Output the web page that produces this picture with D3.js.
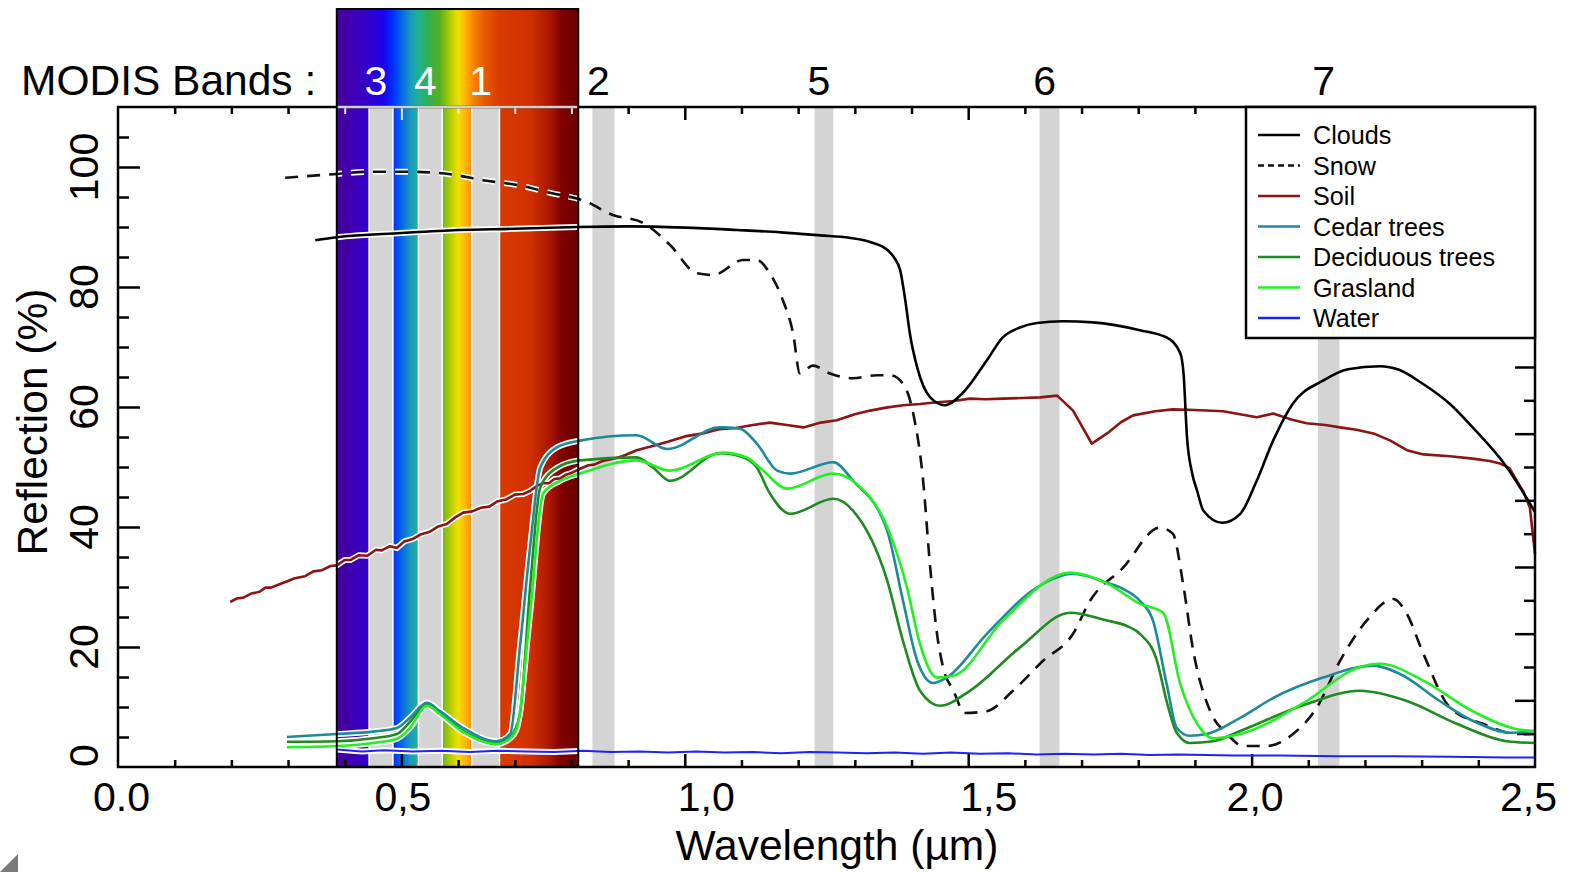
<!DOCTYPE html>
<html>
<head>
<meta charset="utf-8">
<script src="https://cdn.jsdelivr.net/npm/d3@7"></script>
<style>
  body { margin: 0; background: #fff; }
  text { font-family: Arial, "Liberation Sans", sans-serif; }
</style>
</head>
<body>
<svg id="chart"></svg>
<script>
const width = 1573;
const height = 872;
const margin = { top: 107, right: 38, bottom: 105, left: 118 };

// Data (wavelength in µm, reflection in %)
const cloudsWl = [0.348, 0.386, 0.5, 0.6, 0.7, 0.81, 0.9, 1.0, 1.092, 1.17, 1.239, 1.29, 1.327, 1.357, 1.37, 1.38, 1.389, 1.397, 1.41, 1.433, 1.459, 1.49, 1.533, 1.561, 1.59, 1.621, 1.667, 1.72, 1.803, 1.85, 1.874, 1.88, 1.886, 1.895, 1.904, 1.915, 1.948, 1.98, 2.009, 2.038, 2.073, 2.126, 2.17, 2.227, 2.26, 2.3, 2.35, 2.39, 2.45, 2.5];
const cloudsVal = [87.8, 88.3, 89.0, 89.5, 89.7, 90.0, 90.1, 89.9, 89.5, 89.1, 88.6, 88.2, 87.5, 86.2, 84.8, 82.8, 77.8, 72.3, 66.6, 61.6, 60.3, 62.3, 67.8, 71.6, 73.2, 74.0, 74.3, 74.1, 72.8, 71.6, 69.0, 65.5, 55.0, 49.0, 46.0, 42.7, 40.7, 42.2, 47.7, 54.4, 60.6, 64.4, 66.3, 66.8, 66.2, 64.0, 60.5, 56.6, 50.0, 42.5];

const snowWl = [0.295, 0.38, 0.445, 0.515, 0.586, 0.644, 0.704, 0.762, 0.824, 0.873, 0.926, 0.974, 1.021, 1.05, 1.103, 1.127, 1.15, 1.173, 1.191, 1.203, 1.226, 1.256, 1.297, 1.339, 1.362, 1.385, 1.403, 1.42, 1.433, 1.445, 1.456, 1.474, 1.494, 1.533, 1.579, 1.632, 1.685, 1.715, 1.773, 1.838, 1.861, 1.879, 1.897, 1.927, 1.957, 1.985, 2.027, 2.073, 2.115, 2.156, 2.203, 2.25, 2.274, 2.303, 2.35, 2.408, 2.468, 2.5];
const snowVal = [98.2, 98.8, 99.2, 99.2, 98.8, 97.8, 97.0, 95.7, 94.3, 92.0, 90.7, 87.0, 82.3, 82.0, 84.5, 84.5, 82.3, 77.8, 72.3, 65.6, 66.9, 65.6, 64.8, 65.3, 65.3, 63.9, 58.9, 48.2, 33.2, 22.2, 16.5, 12.7, 9.0, 9.3, 12.7, 17.7, 22.2, 27.7, 33.2, 39.9, 38.9, 30.6, 19.4, 9.3, 5.5, 3.5, 3.5, 5.5, 9.9, 17.7, 24.4, 28.0, 25.5, 18.9, 9.9, 7.2, 5.5, 5.5];

const soilWl = [0.198, 0.21, 0.22, 0.235, 0.25, 0.26, 0.27, 0.286, 0.3, 0.31, 0.33, 0.345, 0.36, 0.375, 0.386, 0.4, 0.41, 0.425, 0.44, 0.455, 0.465, 0.48, 0.492, 0.505, 0.52, 0.535, 0.55, 0.565, 0.58, 0.595, 0.609, 0.625, 0.64, 0.655, 0.67, 0.685, 0.7, 0.715, 0.727, 0.74, 0.75, 0.76, 0.77, 0.78, 0.79, 0.8, 0.815, 0.83, 0.84, 0.855, 0.87, 0.89, 0.915, 0.94, 0.97, 1.0, 1.032, 1.06, 1.09, 1.12, 1.15, 1.18, 1.209, 1.24, 1.268, 1.3, 1.327, 1.355, 1.385, 1.415, 1.445, 1.475, 1.503, 1.53, 1.561, 1.595, 1.627, 1.657, 1.685, 1.718, 1.745, 1.77, 1.791, 1.83, 1.861, 1.9, 1.95, 2.009, 2.038, 2.07, 2.097, 2.13, 2.156, 2.185, 2.215, 2.245, 2.274, 2.303, 2.35, 2.39, 2.42, 2.438, 2.455, 2.468, 2.48, 2.491, 2.5];
const soilVal = [27.5, 28.1, 28.2, 28.9, 29.2, 29.9, 29.9, 30.5, 31.0, 31.4, 31.8, 32.6, 32.8, 33.5, 33.6, 34.5, 34.5, 35.3, 35.2, 36.2, 36.1, 36.8, 36.5, 37.6, 38.0, 38.8, 39.2, 40.1, 40.5, 41.6, 42.4, 42.6, 43.2, 43.4, 44.3, 44.6, 45.4, 45.5, 46.0, 46.9, 47.3, 47.3, 48.0, 48.1, 48.7, 49.0, 49.7, 50.3, 50.4, 51.0, 51.3, 51.8, 52.8, 53.4, 54.2, 55.1, 55.6, 56.3, 56.5, 57.0, 57.4, 57.0, 56.6, 57.4, 57.8, 58.8, 59.4, 59.9, 60.3, 60.5, 60.8, 61.0, 61.4, 61.3, 61.4, 61.5, 61.6, 61.9, 59.4, 53.9, 55.6, 57.5, 58.6, 59.3, 59.6, 59.5, 59.3, 58.3, 58.9, 57.9, 57.3, 57.0, 56.6, 56.2, 55.6, 54.4, 52.8, 52.1, 51.8, 51.4, 51.0, 50.6, 49.8, 47.7, 45.8, 43.2, 35.5];

const cedarWl = [0.298, 0.386, 0.45, 0.492, 0.515, 0.545, 0.568, 0.609, 0.668, 0.692, 0.709, 0.727, 0.745, 0.775, 0.815, 0.915, 0.969, 1.062, 1.097, 1.127, 1.163, 1.186, 1.262, 1.297, 1.357, 1.385, 1.41, 1.438, 1.462, 1.533, 1.621, 1.685, 1.745, 1.773, 1.803, 1.826, 1.85, 1.868, 1.891, 1.921, 1.98, 2.038, 2.126, 2.215, 2.262, 2.332, 2.39, 2.461, 2.5];
const cedarVal = [5.0, 5.5, 5.9, 6.5, 8.2, 10.7, 9.3, 6.5, 4.3, 5.5, 19.9, 36.6, 49.9, 53.3, 54.4, 55.3, 53.0, 56.6, 56.4, 53.9, 49.4, 48.9, 50.8, 47.7, 39.4, 27.7, 17.7, 14.0, 14.9, 22.2, 29.9, 32.2, 30.7, 29.7, 27.7, 24.4, 13.9, 6.5, 5.2, 5.5, 8.2, 11.5, 14.9, 16.9, 15.5, 11.0, 7.7, 5.7, 6.0];

const deciduousWl = [0.298, 0.386, 0.45, 0.492, 0.515, 0.545, 0.568, 0.609, 0.668, 0.692, 0.709, 0.727, 0.745, 0.775, 0.815, 0.915, 0.944, 0.974, 1.062, 1.103, 1.127, 1.15, 1.186, 1.262, 1.297, 1.357, 1.385, 1.415, 1.45, 1.503, 1.591, 1.68, 1.745, 1.78, 1.803, 1.833, 1.85, 1.868, 1.891, 1.932, 1.98, 2.097, 2.191, 2.274, 2.362, 2.45, 2.5];
const deciduousVal = [4.2, 4.3, 4.8, 5.5, 7.5, 10.5, 9.0, 6.0, 4.0, 5.0, 8.8, 29.9, 46.6, 49.9, 51.1, 51.6, 49.9, 47.7, 52.3, 51.6, 49.9, 45.6, 42.2, 44.7, 42.7, 31.1, 21.0, 12.7, 10.2, 12.7, 19.9, 25.7, 24.4, 23.5, 22.2, 17.7, 11.0, 5.7, 4.0, 4.3, 6.0, 10.5, 12.7, 11.0, 7.2, 4.3, 4.0];

const graslandWl = [0.298, 0.386, 0.45, 0.492, 0.515, 0.545, 0.568, 0.609, 0.668, 0.692, 0.704, 0.727, 0.75, 0.78, 0.815, 0.915, 0.974, 1.067, 1.109, 1.138, 1.18, 1.262, 1.303, 1.362, 1.392, 1.415, 1.445, 1.474, 1.561, 1.68, 1.745, 1.803, 1.844, 1.874, 1.904, 1.932, 1.98, 2.097, 2.186, 2.227, 2.303, 2.39, 2.468, 2.5];
const graslandVal = [3.3, 3.5, 4.0, 4.7, 6.5, 10.2, 8.8, 5.8, 3.8, 4.8, 6.5, 25.5, 45.6, 47.7, 48.9, 51.1, 49.4, 52.4, 51.6, 49.4, 46.4, 48.9, 47.2, 38.9, 29.9, 20.5, 14.9, 15.2, 24.4, 32.4, 30.6, 27.2, 25.7, 13.9, 7.2, 4.8, 5.5, 11.0, 16.5, 17.2, 14.4, 9.3, 6.3, 6.0];

const waterWl = [0.386, 0.43, 0.47, 0.52, 0.57, 0.62, 0.67, 0.72, 0.77, 0.82, 0.87, 0.92, 0.97, 1.02, 1.07, 1.12, 1.17, 1.22, 1.27, 1.32, 1.37, 1.42, 1.47, 1.52, 1.57, 1.62, 1.67, 1.72, 1.77, 1.82, 1.87, 1.92, 1.97, 2.05, 2.15, 2.25, 2.35, 2.45, 2.5];
const waterVal = [2.9, 2.6, 2.8, 2.6, 2.7, 2.5, 2.7, 2.6, 2.5, 2.7, 2.5, 2.6, 2.4, 2.6, 2.4, 2.5, 2.3, 2.5, 2.4, 2.3, 2.4, 2.2, 2.4, 2.2, 2.3, 2.1, 2.2, 2.1, 2.2, 2.0, 2.1, 2.0, 1.9, 1.9, 1.8, 1.8, 1.7, 1.6, 1.6];

// MODIS bands
const bandLabels = ["3", "4", "1", "2", "5", "6", "7"];
const bandStart = [0.443, 0.530, 0.624, 0.837, 1.229, 1.626, 2.117];
const bandEnd = [0.485, 0.572, 0.673, 0.876, 1.262, 1.661, 2.155];

// Axis labels
const xLabelValues = [0, 0.5, 1.0, 1.5, 2.0, 2.5];
const xLabelText = ["0.0", "0,5", "1,0", "1,5", "2,0", "2,5"];
const yLabelValues = [0, 20, 40, 60, 80, 100];

const seriesNames = ["Clouds", "Snow", "Soil", "Cedar trees", "Deciduous trees", "Grasland", "Water"];

// Styles
const seriesColors = ["#000000", "#111111", "#8c1414", "#1d8a9a", "#1f8a1f", "#22f022", "#2020ff"];
const xLabelNudge = [3, 1, 21, 20, 3, -7];
const specRange = [0.386, 0.812];
const specStops = [
  [0.386, "#4a0098"], [0.418, "#3d00b8"], [0.441, "#3300cc"], [0.468, "#1a00ee"],
  [0.485, "#0030ff"], [0.503, "#0870e0"], [0.515, "#1898c0"], [0.529, "#20b098"],
  [0.547, "#30b050"], [0.568, "#58b020"], [0.589, "#c0d000"], [0.600, "#f0e000"],
  [0.612, "#ffb800"], [0.625, "#fa8800"], [0.647, "#e85a00"], [0.672, "#d83c00"],
  [0.727, "#d23000"], [0.762, "#a81800"], [0.783, "#800000"], [0.812, "#6a0000"]
];

const svg = d3.select("#chart")
  .attr("width", width)
  .attr("height", height)
  .style("display", "block");

svg.append("rect").attr("width", width).attr("height", height).attr("fill", "#fff");

const x = d3.scaleLinear().domain([0, 2.5]).range([margin.left, width - margin.right]);
const y = d3.scaleLinear().domain([0, 110]).range([height - margin.bottom, margin.top]);
// right axis carries its own tick spacing in the original figure
const yRight = d3.scaleLinear().domain([0, 19.8]).range([height - margin.bottom, margin.top]);

const plotTop = margin.top;
const plotBottom = height - margin.bottom;
const specX0 = x(specRange[0]);
const specX1 = x(specRange[1]);
const specTop = 9;

// Gradient for the visible spectrum
const defs = svg.append("defs");
const grad = defs.append("linearGradient")
  .attr("id", "spec")
  .attr("gradientUnits", "userSpaceOnUse")
  .attr("x1", specX0).attr("x2", specX1)
  .attr("y1", 0).attr("y2", 0);
grad.selectAll("stop")
  .data(specStops)
  .enter()
  .append("stop")
  .attr("offset", d => (d[0] - specRange[0]) / (specRange[1] - specRange[0]))
  .attr("stop-color", d => d[1]);

defs.append("clipPath").attr("id", "specClip")
  .append("rect")
  .attr("x", specX0).attr("y", plotTop)
  .attr("width", specX1 - specX0).attr("height", plotBottom - plotTop);

const bands = bandLabels.map((b, i) => ({ label: b, start: bandStart[i], end: bandEnd[i] }));

// Band stripes outside of the spectrum
svg.selectAll(".band-out")
  .data(bands.filter(d => d.start > specRange[1]))
  .enter()
  .append("rect")
  .attr("class", "band-out")
  .attr("x", d => x(d.start))
  .attr("width", d => x(d.end) - x(d.start))
  .attr("y", plotTop)
  .attr("height", plotBottom - plotTop)
  .attr("fill", "#d4d4d4");

// Spectrum block
svg.append("rect")
  .attr("x", specX0)
  .attr("y", specTop)
  .attr("width", specX1 - specX0)
  .attr("height", plotBottom - specTop)
  .attr("fill", "url(#spec)");

svg.selectAll(".band-in")
  .data(bands.filter(d => d.start < specRange[1]))
  .enter()
  .append("rect")
  .attr("class", "band-in")
  .attr("x", d => x(d.start))
  .attr("width", d => x(d.end) - x(d.start))
  .attr("y", plotTop)
  .attr("height", plotBottom - plotTop)
  .attr("fill", "#d4d4d4")
  .attr("stroke", "#fff")
  .attr("stroke-width", 1.5);

// Ticks
const minorX = d3.range(1, 25).map(i => i / 10).filter(v => Math.abs(v * 2 - Math.round(v * 2)) > 1e-6);
const majorX = [0.5, 1.0, 1.5, 2.0];

function tickGroup(axis, transform) {
  const g = svg.append("g").attr("transform", transform).call(axis);
  g.select(".domain").remove();
  g.selectAll("line").attr("stroke", "#000").attr("stroke-width", 2.5);
  return g;
}

tickGroup(d3.axisBottom(x).tickValues(minorX).tickSize(-7).tickFormat(""), `translate(0,${plotBottom})`);
tickGroup(d3.axisBottom(x).tickValues(majorX).tickSize(-13).tickFormat(""), `translate(0,${plotBottom})`);
const topMinor = tickGroup(d3.axisTop(x).tickValues(minorX).tickSize(-7).tickFormat(""), `translate(0,${plotTop})`);
const topMajor = tickGroup(d3.axisTop(x).tickValues(majorX).tickSize(-13).tickFormat(""), `translate(0,${plotTop})`);
[topMinor, topMajor].forEach(g => {
  g.selectAll(".tick")
    .filter(d => d > specRange[0] && d < specRange[1])
    .select("line")
    .attr("stroke", "#e8e8e8")
    .attr("stroke-width", 2);
});

const minorY = d3.range(5, 110, 5).filter(v => v % 20 !== 0);
const majorY = d3.range(20, 110, 20);
tickGroup(d3.axisLeft(y).tickValues(minorY).tickSize(-11).tickFormat(""), `translate(${margin.left},0)`);
tickGroup(d3.axisLeft(y).tickValues(majorY).tickSize(-22).tickFormat(""), `translate(${margin.left},0)`);
tickGroup(d3.axisRight(yRight).tickValues(d3.range(1, 20).filter(k => k % 2)).tickSize(-11).tickFormat(""), `translate(${width - margin.right},0)`);
tickGroup(d3.axisRight(yRight).tickValues(d3.range(2, 20, 2)).tickSize(-20).tickFormat(""), `translate(${width - margin.right},0)`);

// Lines
const series = seriesNames.map((name, i) => {
  const wl = [cloudsWl, snowWl, soilWl, cedarWl, deciduousWl, graslandWl, waterWl][i];
  const vals = [cloudsVal, snowVal, soilVal, cedarVal, deciduousVal, graslandVal, waterVal][i];
  return {
    name,
    color: seriesColors[i],
    dashed: name === "Snow",
    points: wl.map((w, j) => [w, vals[j]])
  };
});

const line = d3.line()
  .x(d => x(d[0]))
  .y(d => y(d[1]))
  .curve(d3.curveMonotoneX);
const rough = d3.line()
  .x(d => x(d[0]))
  .y(d => y(d[1]));
const pathFor = d => (d.name === "Water" || d.name === "Soil" ? rough : line)(d.points);

const drawOrder = ["Water", "Soil", "Clouds", "Snow", "Deciduous trees", "Cedar trees", "Grasland"];
const ordered = drawOrder.map(n => series.find(s => s.name === n));

// white halos inside the spectrum
svg.append("g")
  .attr("clip-path", "url(#specClip)")
  .selectAll("path")
  .data(ordered)
  .enter()
  .append("path")
  .attr("d", pathFor)
  .attr("fill", "none")
  .attr("stroke", "#fff")
  .attr("stroke-width", 6)
  .attr("stroke-dasharray", d => d.dashed ? "13,9" : null);

svg.append("g")
  .selectAll("path")
  .data(ordered)
  .enter()
  .append("path")
  .attr("d", pathFor)
  .attr("fill", "none")
  .attr("stroke", d => d.color)
  .attr("stroke-width", d => d.name === "Water" ? 2 : 2.6)
  .attr("stroke-linejoin", "round")
  .attr("stroke-dasharray", d => d.dashed ? "13,9" : null);

// Frame
svg.append("rect")
  .attr("x", margin.left)
  .attr("y", plotTop)
  .attr("width", x(2.5) - margin.left)
  .attr("height", plotBottom - plotTop)
  .attr("fill", "none")
  .attr("stroke", "#000")
  .attr("stroke-width", 2.5);

// top edge across the spectrum looks light
svg.append("line")
  .attr("x1", specX0).attr("x2", specX1)
  .attr("y1", plotTop).attr("y2", plotTop)
  .attr("stroke", "#d0d0d0")
  .attr("stroke-width", 2.5);

// Spectrum outline
svg.append("path")
  .attr("d", `M${specX0},${plotBottom}V${specTop}H${specX1}V${plotBottom}`)
  .attr("fill", "none")
  .attr("stroke", "#000")
  .attr("stroke-width", 2);

// Axis labels
const xl = svg.append("g").attr("transform", `translate(0,${plotBottom})`)
  .call(d3.axisBottom(x).tickValues(xLabelValues).tickSize(0).tickPadding(15)
    .tickFormat((d, i) => xLabelText[i]));
xl.select(".domain").remove();
xl.selectAll("text")
  .attr("font-size", 41)
  .attr("font-family", "Arial, 'Liberation Sans', sans-serif")
  .attr("fill", "#000")
  .attr("dx", (d, i) => xLabelNudge[i]);

svg.selectAll(".ylab")
  .data(yLabelValues)
  .enter()
  .append("text")
  .attr("class", "ylab")
  .attr("transform", d => `translate(98,${y(d)}) rotate(-90)`)
  .attr("text-anchor", d => d === 0 ? "start" : "middle")
  .attr("font-size", 41)
  .text(d => d);

svg.append("text")
  .attr("transform", `translate(47,422) rotate(-90)`)
  .attr("text-anchor", "middle")
  .attr("font-size", 42.5)
  .text("Reflection (%)");

svg.append("text")
  .attr("x", 837)
  .attr("y", 860)
  .attr("text-anchor", "middle")
  .attr("font-size", 42.5)
  .text("Wavelength (µm)");

// MODIS band numbers
svg.append("text")
  .attr("x", 21)
  .attr("y", 95)
  .attr("font-size", 42.5)
  .text("MODIS Bands :");

svg.selectAll(".blab")
  .data(bands)
  .enter()
  .append("text")
  .attr("class", "blab")
  .attr("x", d => x((d.start + d.end) / 2) - 5)
  .attr("y", 95)
  .attr("text-anchor", "middle")
  .attr("font-size", 41)
  .attr("fill", d => d.start < specRange[1] ? "#fff" : "#000")
  .text(d => d.label);

// Legend
const legend = svg.append("g").attr("id", "legend");
const lgX = 1246, lgW = x(2.5) - 1246, lgH = 231;
legend.append("rect")
  .attr("x", lgX).attr("y", plotTop)
  .attr("width", lgW).attr("height", lgH)
  .attr("fill", "#fff")
  .attr("stroke", "#000")
  .attr("stroke-width", 2.5);

const rows = legend.selectAll(".row")
  .data(series)
  .enter()
  .append("g")
  .attr("class", "row")
  .attr("transform", (d, i) => `translate(${lgX},${135 + i * 30.5})`);
rows.append("line")
  .attr("x1", 12).attr("x2", 54)
  .attr("stroke", d => d.color)
  .attr("stroke-width", 2.5)
  .attr("stroke-dasharray", d => d.dashed ? "6,4" : null);
rows.append("text")
  .attr("x", 67)
  .attr("y", 9)
  .attr("font-size", 25.2)
  .text(d => d.name);

// small corner mark
svg.append("path")
  .attr("d", `M18,854L18,872L0,872Z`)
  .attr("fill", "#7a7a7a");
</script>
</body>
</html>
